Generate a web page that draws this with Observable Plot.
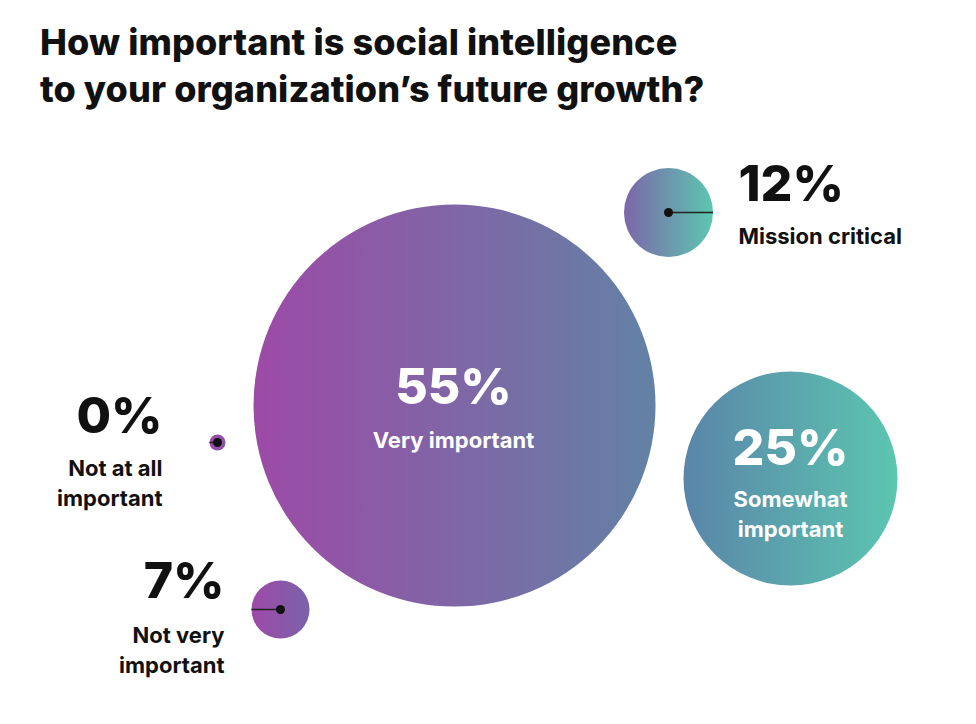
<!DOCTYPE html>
<html><head><meta charset="utf-8">
<script src="https://cdn.jsdelivr.net/npm/d3@7"></script>
<script src="https://cdn.jsdelivr.net/npm/@observablehq/plot@0.6"></script>
<style>
html,body{margin:0;padding:0;background:#fff;}
#title{box-sizing:border-box;height:114px;padding:19px 0 0 40px;font-family:Inter,Lato,sans-serif;font-weight:800;font-size:36px;line-height:47px;color:#111;margin:0;white-space:nowrap;letter-spacing:0.1px;}
#chart svg{display:block;}
</style></head><body>
<div id="title">How important is social intelligence<br>to your organization’s future growth?</div>
<div id="chart"></div>
<script>
// ---- data ----
const categories = ["Very important", "Somewhat important", "Mission critical", "Not very important", "Not at all important"];
const labelText  = ["Very important", "Somewhat\nimportant", "Mission critical", "Not very\nimportant", "Not at all\nimportant"];
const shares     = [55, 25, 12, 7, 0];
// bubble layout (layout units)
const layoutX = [454, 790, 668, 280, 217];
const layoutY = [405, 478, 212, 609, 442];

const rows = categories.map((c, i) => ({category: c, label: labelText[i], share: shares[i], px: layoutX[i], py: layoutY[i], idx: i}));

// ---- styles ----
const gradients = [
  ["#9d4aa7", "#6282a5"],
  ["#5a85a9", "#5cc6b0"],
  ["#7c66a9", "#5cc7b0"],
  ["#9e49a8", "#7a63a8"],
  ["#9b4aa8", "#8a56a8"]
];
const rOpts = {type: "linear", domain: [0, 7, 12, 25, 55], range: [8, 29, 44.5, 107, 201]};
const rScale = Plot.scale({r: rOpts});
const FONT = "Inter, Lato, sans-serif";
const pick = (name) => rows.filter(d => d.category === name);

function label(name, opts) {
  const d = pick(name);
  return [
    Plot.text(d, {x: "px", y: "py", text: d => `${d.share}%`, fontSize: 50, fontWeight: 800, fontFamily: FONT,
      fill: opts.color, textAnchor: opts.anchor, dx: opts.dx, dy: opts.dyPct, lineAnchor: "middle"}),
    Plot.text(d, {x: "px", y: "py", text: "label", fontSize: 22, fontWeight: 700, fontFamily: FONT,
      fill: opts.color, textAnchor: opts.anchor, dx: opts.dx, dy: opts.dyLab, lineAnchor: "middle", lineHeight: 1.36})
  ];
}

const leaders = rows.filter(d => d.share < 20).map(d => ({...d, dir: d.category === "Mission critical" ? 1 : -1}));

const defs = () => {
  const g = d3.create("svg:defs");
  gradients.forEach(([a, b], i) => {
    const lg = g.append("linearGradient").attr("id", "grad" + i).attr("x1", "0").attr("x2", "1").attr("y1", "0").attr("y2", "0");
    lg.append("stop").attr("offset", "0%").attr("stop-color", a);
    lg.append("stop").attr("offset", "100%").attr("stop-color", b);
  });
  return g.node();
};

const chart = Plot.plot({
  width: 976,
  height: 610,
  margin: 0,
  x: {domain: [0, 976], range: [0, 976], axis: null},
  y: {domain: [114, 724], range: [0, 610], axis: null},
  r: rOpts,
  color: {type: "identity"},
  style: {background: "#fff", fontFamily: FONT},
  marks: [
    defs,
    Plot.dot(rows, {x: "px", y: "py", r: "share", fill: d => `url(#grad${d.idx})`, stroke: null}),
    Plot.link(leaders, {x1: "px", y1: "py", x2: d => d.px + d.dir * rScale.apply(d.share), y2: "py", stroke: "#222", strokeWidth: 1.5}),
    Plot.dot(leaders, {x: "px", y: "py", r: 4.5, fill: "#111"}),
    ...label("Very important", {color: "#fff", anchor: "middle", dx: -1, dyPct: -17.6, dyLab: 32.6}),
    ...label("Somewhat important", {color: "#fff", anchor: "middle", dx: 0, dyPct: -29.6, dyLab: 33.6}),
    ...label("Mission critical", {color: "#111", anchor: "start", dx: 70, dyPct: -27.6, dyLab: 21.6}),
    ...label("Not at all important", {color: "#111", anchor: "end", dx: -55, dyPct: -25.6, dyLab: 38.6}),
    ...label("Not very important", {color: "#111", anchor: "end", dx: -56, dyPct: -27.6, dyLab: 38.6})
  ]
});
document.getElementById("chart").appendChild(chart);
</script>
</body></html>
